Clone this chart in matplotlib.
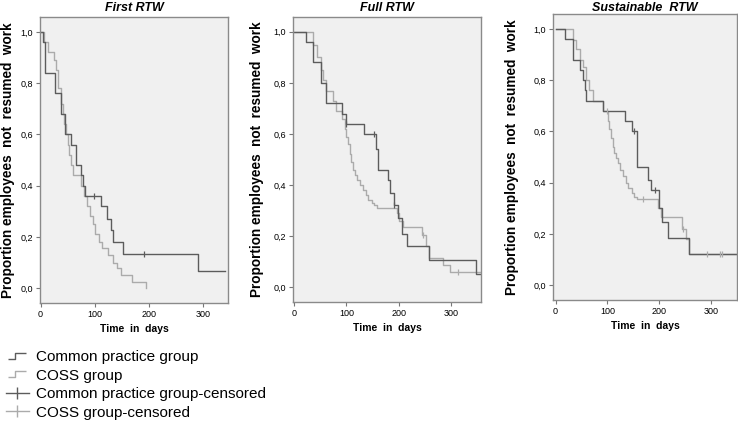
import numpy as np
import matplotlib
matplotlib.use("Agg")
import matplotlib.pyplot as plt
from matplotlib.lines import Line2D
from matplotlib.path import Path
from matplotlib.ticker import FuncFormatter

plt.rcParams['font.family'] = ['Liberation Sans', 'DejaVu Sans']

# ---- data (Kaplan-Meier steps) ----
titles = ["First RTW", "Full RTW", "Sustainable  RTW"]
xticks = [0, 100, 200, 300]
yticks = [0.0, 0.2, 0.4, 0.6, 0.8, 1.0]
legend_labels = ["Common practice group", "COSS group",
                 "Common practice group-censored", "COSS group-censored"]

# First RTW
t_cp1 = [0, 4, 9, 26, 37, 46, 56, 65, 74, 78, 82, 111, 123, 130, 134, 153, 291, 340]
s_cp1 = [1.0, 0.96, 0.84, 0.76, 0.68, 0.60, 0.56, 0.48, 0.44, 0.40, 0.36, 0.32, 0.27, 0.225, 0.18, 0.135, 0.068, 0.068]
t_coss1 = [0, 6, 14, 25, 29, 33, 37, 41, 44, 47, 50, 53, 56, 60, 75, 80, 85, 91, 97, 101, 108, 114, 124, 134, 141, 148, 168, 194]
s_coss1 = [1.0, 0.96, 0.92, 0.89, 0.85, 0.78, 0.72, 0.68, 0.64, 0.60, 0.56, 0.52, 0.48, 0.44, 0.40, 0.36, 0.32, 0.28, 0.25, 0.21, 0.18, 0.155, 0.13, 0.10, 0.077, 0.052, 0.025, 0.0]
cens_cp1_t = [99, 191]
cens_cp1_s = [0.36, 0.135]
cens_coss1_t = []
cens_coss1_s = []

# Full RTW
t_cp2 = [0, 22, 36, 52, 61, 92, 99, 134, 157, 161, 180, 183, 190, 199, 206, 215, 257, 347, 357]
s_cp2 = [1.0, 0.96, 0.88, 0.80, 0.72, 0.68, 0.64, 0.60, 0.54, 0.46, 0.42, 0.37, 0.32, 0.27, 0.21, 0.16, 0.107, 0.053, 0.053]
t_coss2 = [0, 36, 44, 52, 56, 61, 75, 80, 91, 97, 100, 103, 106, 109, 112, 116, 120, 126, 132, 137,
           142, 148, 153, 158, 196, 201, 209, 244, 252, 257, 285, 297, 357]
s_coss2 = [1.0, 0.95, 0.90, 0.85, 0.81, 0.77, 0.73, 0.69, 0.66, 0.62, 0.59, 0.56, 0.52, 0.49, 0.46, 0.44, 0.42, 0.40, 0.38, 0.36,
           0.34, 0.33, 0.32, 0.31, 0.29, 0.26, 0.235, 0.205, 0.16, 0.115, 0.085, 0.058, 0.058]
cens_cp2_t = [100, 152, 191]
cens_cp2_s = [0.64, 0.60, 0.32]
cens_coss2_t = [247, 314]
cens_coss2_s = [0.205, 0.058]

# Sustainable RTW
t_cp3 = [0, 19, 34, 48, 53, 56, 59, 92, 134, 147, 158, 179, 184, 200, 206, 216, 258, 350]
s_cp3 = [1.0, 0.96, 0.88, 0.84, 0.80, 0.76, 0.72, 0.68, 0.64, 0.60, 0.46, 0.41, 0.37, 0.30, 0.245, 0.185, 0.123, 0.123]
t_coss3 = [0, 33, 40, 47, 53, 58, 65, 72, 92, 101, 104, 107, 110, 113, 116, 120, 125, 130, 135, 140,
           147, 152, 157, 198, 203, 243, 251, 258, 350]
s_coss3 = [1.0, 0.955, 0.92, 0.88, 0.85, 0.80, 0.76, 0.72, 0.68, 0.64, 0.61, 0.575, 0.54, 0.515, 0.495, 0.475, 0.45, 0.425, 0.40, 0.38,
           0.36, 0.345, 0.335, 0.30, 0.265, 0.22, 0.18, 0.123, 0.123]
cens_cp3_t = [151, 191]
cens_cp3_s = [0.60, 0.37]
cens_coss3_t = [99, 169, 246, 292, 317, 322]
cens_coss3_s = [0.68, 0.335, 0.22, 0.123, 0.123, 0.123]

panels = [
    (t_cp1, s_cp1, t_coss1, s_coss1, cens_cp1_t, cens_cp1_s, cens_coss1_t, cens_coss1_s),
    (t_cp2, s_cp2, t_coss2, s_coss2, cens_cp2_t, cens_cp2_s, cens_coss2_t, cens_coss2_s),
    (t_cp3, s_cp3, t_coss3, s_coss3, cens_cp3_t, cens_cp3_s, cens_coss3_t, cens_coss3_s),
]

# ---- styling ----
dark = '#5c5c5c'
light = '#ababab'
W, H = 738, 421
# axes boxes in pixels: left, top, right, bottom
boxes = [(40, 17, 228, 303), (293, 17, 481, 302), (553, 14, 737, 300)]
xlims = [(-1, 346), (-2, 357), (-5, 350)]
ylab_x = [-0.135, -0.152, -0.183]
title_pad = [4, 4, 1.5]

fig = plt.figure(figsize=(W / 100, H / 100), dpi=100)

for i, (tc, sc, to, so, cct, ccs, cot, cos_) in enumerate(panels):
    l, t, r, b = boxes[i]
    ax = fig.add_axes([l / W, 1 - b / H, (r - l) / W, (b - t) / H])
    ax.set_facecolor('#f0f0f0')
    ax.step(to, so, where='post', color=light, lw=1.0)
    ax.step(tc, sc, where='post', color=dark, lw=1.0)
    if cot:
        ax.plot(cot, cos_, ls='none', marker='|', ms=5, mew=0.9, color=light)
    if cct:
        ax.plot(cct, ccs, ls='none', marker='|', ms=5, mew=0.9, color=dark)
    ax.set_xlim(*xlims[i])
    ax.set_ylim(-0.058, 1.058)
    ax.set_xticks(xticks)
    ax.set_yticks(yticks)
    ax.yaxis.set_major_formatter(FuncFormatter(lambda v, p: f"{v:.1f}".replace('.', ',')))
    ax.tick_params(labelsize=6.5, length=3, width=0.8, color='#777777', pad=2)
    for sp in ax.spines.values():
        sp.set_color('#8a8a8a')
        sp.set_linewidth(1.0)
    ax.set_title(titles[i], fontsize=9, fontweight='bold', style='italic', pad=title_pad[i])
    ax.set_ylabel("Proportion employees  not  resumed  work", fontsize=9.8, fontweight='bold')
    ax.yaxis.set_label_coords(ylab_x[i], 0.5)
    ax.set_xlabel("Time  in  days", fontsize=7.5, fontweight='bold')
    ax.xaxis.set_label_coords(0.5, -0.075)

# legend handles
step_path = Path([(-1.0, -0.35), (-0.2, -0.35), (-0.2, 0.35), (1.0, 0.35)],
                 [Path.MOVETO, Path.LINETO, Path.LINETO, Path.LINETO])
handles = [
    Line2D([], [], ls='none', marker=step_path, ms=13, mfc='none', mec=dark, mew=1.0),
    Line2D([], [], ls='none', marker=step_path, ms=13, mfc='none', mec=light, mew=1.0),
    Line2D([], [], color=dark, lw=1.0, marker='|', ms=8, mew=1.0),
    Line2D([], [], color=light, lw=1.0, marker='|', ms=8, mew=1.0),
]
fig.legend(handles, legend_labels, loc='upper left', bbox_to_anchor=(6 / W, 1 - 350 / H),
           frameon=False, fontsize=11, handlelength=1.5, handletextpad=0.45,
           labelspacing=0.3, borderpad=0, borderaxespad=0)

fig.savefig('out.png', dpi=100)
